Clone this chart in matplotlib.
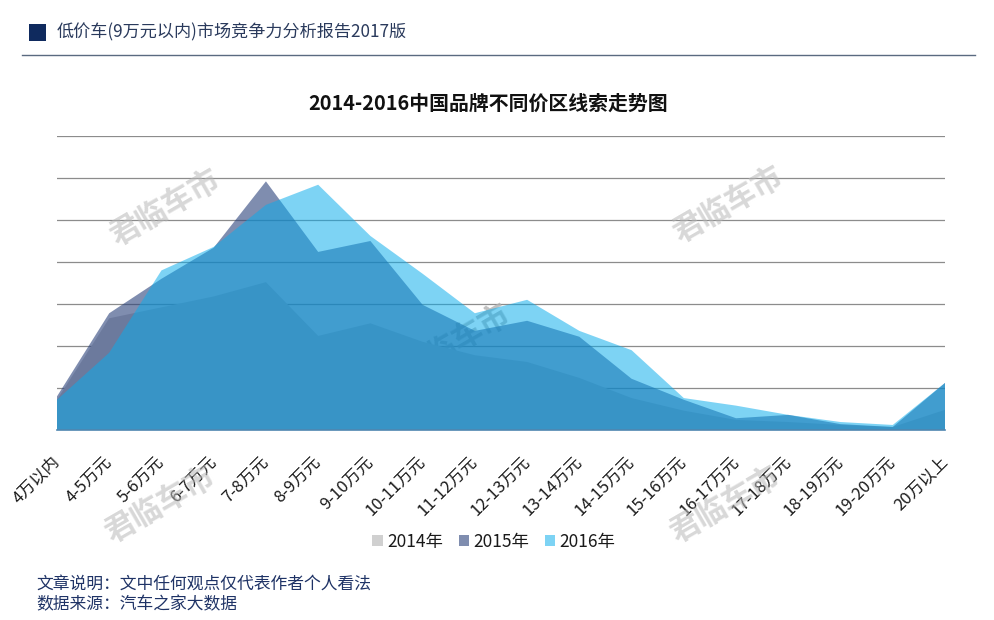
import matplotlib
matplotlib.use("Agg")
import matplotlib.pyplot as plt
from matplotlib.patches import Rectangle
from matplotlib.lines import Line2D
import numpy as np

plt.rcParams['font.family'] = ['Noto Sans CJK SC', 'DejaVu Sans']

categories = ["4万以内", "4-5万元", "5-6万元", "6-7万元", "7-8万元", "8-9万元", "9-10万元",
              "10-11万元", "11-12万元", "12-13万元", "13-14万元", "14-15万元", "15-16万元",
              "16-17万元", "17-18万元", "18-19万元", "19-20万元", "20万以上"]
s2014 = [3.6, 13.3, 14.6, 15.9, 17.6, 11.2, 12.7, 10.5, 8.9, 8.1, 6.2, 3.8, 2.3, 1.2, 0.95, 0.6, 0.36, 2.4]
s2015 = [4.0, 13.9, 18.0, 21.7, 29.6, 21.2, 22.5, 14.9, 11.8, 13.0, 11.1, 6.1, 3.6, 1.4, 1.8, 0.7, 0.36, 5.6]
s2016 = [3.6, 9.2, 19.0, 21.8, 26.8, 29.2, 23.1, 18.6, 13.9, 15.5, 11.8, 9.5, 3.8, 2.9, 1.8, 0.95, 0.6, 5.6]
series_names = ["2014年", "2015年", "2016年"]

W, H = 995, 620
fig = plt.figure(figsize=(W / 100, H / 100), dpi=100)
fig.patch.set_facecolor('white')

def fx(px):
    return px / W

def fy(py):
    return 1 - py / H

ax = fig.add_axes([fx(57), fy(430), fx(945) - fx(57), fy(136) - fy(430)])
x = np.arange(len(categories))

ax.fill_between(x, 0, s2014, facecolor='#d0d0d0', edgecolor='none', linewidth=0,
                zorder=1, label=series_names[0])
ax.fill_between(x, 0, s2015, facecolor='#2a417b', alpha=0.6, edgecolor='none', linewidth=0,
                zorder=2, label=series_names[1])
ax.fill_between(x, 0, s2016, facecolor='#0aacec', alpha=0.53, edgecolor='none', linewidth=0,
                zorder=3, label=series_names[2])

ax.set_xlim(0, len(categories) - 1)
ax.set_ylim(0, 35)
ax.set_yticks(np.arange(0, 36, 5))
ax.set_yticklabels([])
ax.tick_params(axis='y', length=0)
ax.set_axisbelow(True)
ax.yaxis.grid(True, color='#8c8c8c', linewidth=0.9)
ax.xaxis.grid(False)
for sp in ['top', 'right', 'left']:
    ax.spines[sp].set_visible(False)
ax.spines['bottom'].set_color('#4f86b0')
ax.spines['bottom'].set_linewidth(1.2)
ax.spines['bottom'].set_zorder(5)
ax.set_facecolor('none')

ax.set_xticks(x)
ax.set_xticklabels(categories, rotation=45, ha='right', va='center',
                   rotation_mode='anchor', fontsize=12, color='#1a1a1a')
ax.tick_params(axis='x', length=0, pad=21)

# title
fig.text(fx(488), fy(103), "2014-2016中国品牌不同价区线索走势图", ha='center', va='center',
         fontsize=14.3, fontweight='bold', color='#111111')

# header
fig.patches.append(Rectangle((fx(29), fy(41)), fx(17), 17 / H, transform=fig.transFigure,
                             facecolor='#0f2a5e', edgecolor='none'))
fig.text(fx(57), fy(32), "低价车(9万元以内)市场竞争力分析报告2017版", ha='left', va='center',
         fontsize=12.3, color='#2a3a5c')
fig.lines.append(Line2D([fx(22), fx(975)], [fy(55), fy(55)], transform=fig.transFigure,
                        color='#5a6a80', linewidth=1))

# legend
leg = fig.legend(loc='center', bbox_to_anchor=(fx(494), fy(542)), ncol=3, frameon=False,
                 fontsize=12.5, handlelength=0.6, handleheight=0.6, handletextpad=0.25,
                 columnspacing=0.9, borderaxespad=0)
for t in leg.get_texts():
    t.set_color('#1a1a1a')

# footer
fig.text(fx(36), fy(584), "文章说明：文中任何观点仅代表作者个人看法", ha='left', va='center',
         fontsize=12.1, color='#1f3366')
fig.text(fx(36), fy(605), "数据来源：汽车之家大数据", ha='left', va='center',
         fontsize=12.1, color='#1f3366')

# watermarks
for (px, py) in [(165, 208), (728, 205), (160, 505), (725, 505)]:
    fig.text(fx(px), fy(py), "君临车市", ha='center', va='center', rotation=30,
             fontsize=22, fontweight='bold', color='#b8b8b8', alpha=0.55, zorder=10)
# watermark partly hidden beneath the chart areas
ax.text(fx(455), fy(343), "君临车市", transform=fig.transFigure, ha='center', va='center',
        rotation=30, fontsize=22, fontweight='bold', color='#b0b0b0', alpha=0.8, zorder=0.8)

fig.savefig("out.png", dpi=100, facecolor='white')
